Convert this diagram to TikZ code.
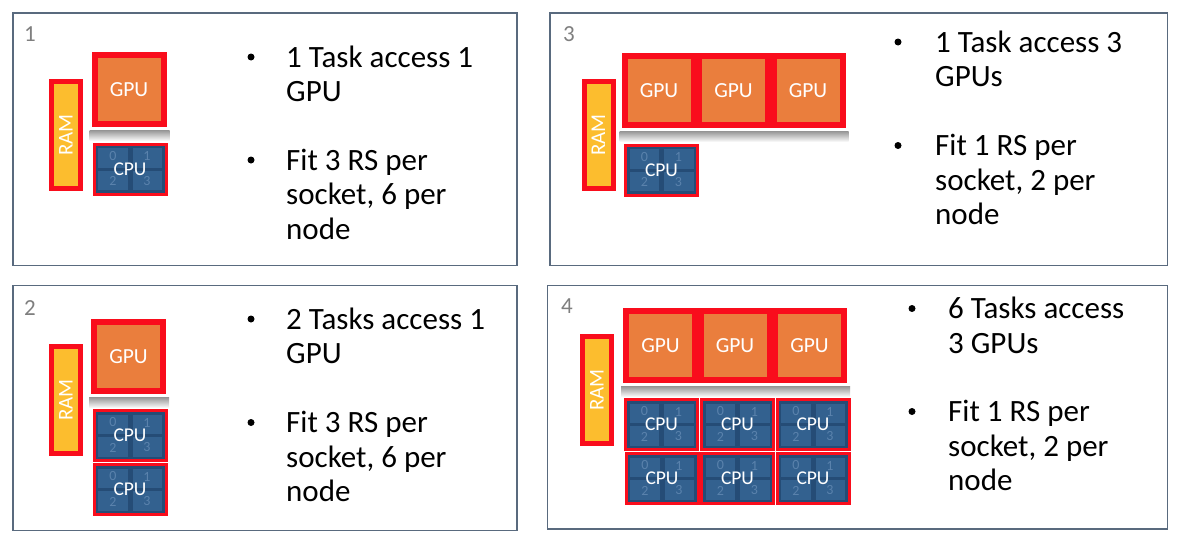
\documentclass[tikz,border=0pt]{standalone}
\usepackage{fontspec}
\setmainfont{Carlito}
\usetikzlibrary{calc}
\definecolor{rsred}{HTML}{F90D1C}
\definecolor{gpuorange}{HTML}{EA7E3D}
\definecolor{ramgold}{HTML}{FCBD2E}
\definecolor{cpudark}{HTML}{254C76}
\definecolor{cpucore}{HTML}{33618F}
\definecolor{coreblue}{HTML}{5A82AC}
\definecolor{panelline}{HTML}{596A7E}
\definecolor{panelgray}{HTML}{7F7F7F}

\tikzset{
  panel/.style={draw=panelline, line width=1.5pt, fill=white},
  panelno/.style={anchor=base west, inner sep=0pt, text=panelgray, font=\fontsize{23}{26}\selectfont},
  rambox/.style={draw=rsred, line width=5pt, fill=ramgold, minimum width=107pt, minimum height=29pt, inner sep=0pt, rotate=90, text=white, font=\fontsize{21}{24}\selectfont},
  gpubox/.style={draw=rsred, line width=6pt, fill=gpuorange, minimum width=69pt, minimum height=69pt, inner sep=0pt, text=white, font=\fontsize{21.5}{25}\selectfont},
  gpushadow/.style={top color=black!42, bottom color=black!4, draw=none},
  cpubox/.style={draw=rsred, line width=3pt, fill=cpudark, minimum width=72pt, minimum height=50pt, inner sep=0pt},
  cpucell/.style={fill=cpucore},
  coreno/.style={inner sep=0pt, text=coreblue, font=\fontsize{14}{16}\selectfont},
  cpulabel/.style={inner sep=0pt, text=white, font=\fontsize{19.5}{22}\selectfont},
  bulletdot/.style={circle, fill=black, inner sep=0pt, minimum size=7pt},
  itemtext/.style={anchor=base west, inner sep=0pt, font=\fontsize{31}{34.5}\selectfont},
}

% one CPU socket with its four cores
\newcommand{\cpublock}[3]{%
  \node[cpubox] (#1) at (#2,#3) {};
  \fill[cpucell] ($(#1.center)+(-32,-21)$) rectangle +(29.5,19.5);
  \fill[cpucell] ($(#1.center)+(2.5,-21)$) rectangle +(29.5,19.5);
  \fill[cpucell] ($(#1.center)+(-32,1.5)$) rectangle +(29.5,19.5);
  \fill[cpucell] ($(#1.center)+(2.5,1.5)$) rectangle +(29.5,19.5);
  \node[coreno] (#1-0) at ($(#1.center)+(-17,-13)$) {0};
  \node[coreno] (#1-1) at ($(#1.center)+(17,-13)$) {1};
  \node[coreno] (#1-2) at ($(#1.center)+(-17,12)$) {2};
  \node[coreno] (#1-3) at ($(#1.center)+(17,12)$) {3};
  \node[cpulabel] (#1-l) at (#1.center) {CPU};
}

\begin{document}
\begin{tikzpicture}[x=1pt,y=-1pt]
        \useasboundingbox (0,0) rectangle (1184,546);
        \fill[white] (0,0) rectangle (1184,546);

        % panels
        \draw[panel] (13,13) rectangle (517,265.7);
        \draw[panel] (550,13) rectangle (1167.7,265.7);
        \draw[panel] (13,285.7) rectangle (517,530.5);
        \draw[panel] (547.7,285.5) rectangle (1167.7,529);

        % panel 1
        \node[panelno] (n1) at (24,41) {1};
        \node[rambox] (ram1) at (66,135) {RAM};
        \node[gpubox] (gpu1) at (129,89.5) {GPU};
        \shade[gpushadow] ($(gpu1.south west)+(-2,3)$) rectangle ($(gpu1.south east)+(3,13)$);
        \cpublock{cpu1}{130}{169}
        \node[bulletdot] (b1a) at (251,57) {};
        \node[itemtext] (t1a) at (286,67) {\parbox[t]{220pt}{1 Task access 1\\GPU}};
        \node[bulletdot] (b1b) at (251,160) {};
        \node[itemtext] (t1b) at (286,170) {\parbox[t]{220pt}{Fit 3 RS per\\socket, 6 per\\node}};

        % panel 2
        \node[panelno] (n2) at (24,315) {2};
        \node[rambox] (ram2) at (66,400) {RAM};
        \node[gpubox] (gpu2) at (128.5,356.5) {GPU};
        \shade[gpushadow] ($(gpu2.south west)+(-2,3)$) rectangle ($(gpu2.south east)+(3,13)$);
        \cpublock{cpu2a}{130}{435.5}
        \cpublock{cpu2b}{130}{489.5}
        \node[bulletdot] (b2a) at (251,319) {};
        \node[itemtext] (t2a) at (286,329) {\parbox[t]{220pt}{2 Tasks access 1\\GPU}};
        \node[bulletdot] (b2b) at (251,422.5) {};
        \node[itemtext] (t2b) at (286,432.5) {\parbox[t]{220pt}{Fit 3 RS per\\socket, 6 per\\node}};

        % panel 3
        \node[panelno] (n3) at (563,41) {3};
        \node[rambox] (ram3) at (598.5,135) {RAM};
        \node[gpubox] (gpu3a) at (659,90.5) {GPU};
        \node[gpubox] (gpu3b) at (733.5,90.5) {GPU};
        \node[gpubox] (gpu3c) at (808,90.5) {GPU};
        \shade[gpushadow] ($(gpu3a.south west)+(-2,3)$) rectangle ($(gpu3c.south east)+(3,13)$);
        \cpublock{cpu3}{661.5}{170}
        \node[bulletdot] (b3a) at (898,42) {};
        \node[itemtext] (t3a) at (935,52) {\parbox[t]{220pt}{1 Task access 3\\GPUs}};
        \node[bulletdot] (b3b) at (898,145.5) {};
        \node[itemtext] (t3b) at (935,155.5) {\parbox[t]{220pt}{Fit 1 RS per\\socket, 2 per\\node}};

        % panel 4
        \node[panelno] (n4) at (561,313) {4};
        \node[rambox] (ram4) at (597,390) {RAM};
        \node[gpubox] (gpu4a) at (660.5,345.5) {GPU};
        \node[gpubox] (gpu4b) at (735,345.5) {GPU};
        \node[gpubox] (gpu4c) at (809.5,345.5) {GPU};
        \shade[gpushadow] ($(gpu4a.south west)+(-2,3)$) rectangle ($(gpu4c.south east)+(3,13)$);
        \cpublock{cpu4a}{661.5}{424.5}
        \cpublock{cpu4b}{737.5}{424.5}
        \cpublock{cpu4c}{813}{424.5}
        \cpublock{cpu4d}{662}{478.5}
        \cpublock{cpu4e}{737.5}{478.5}
        \cpublock{cpu4f}{813}{478.5}
        \node[bulletdot] (b4a) at (912,308.5) {};
        \node[itemtext] (t4a) at (948,318.5) {\parbox[t]{210pt}{6 Tasks access\\3 GPUs}};
        \node[bulletdot] (b4b) at (912,411.5) {};
        \node[itemtext] (t4b) at (948,421.5) {\parbox[t]{210pt}{Fit 1 RS per\\socket, 2 per\\node}};
\end{tikzpicture}
\end{document}
